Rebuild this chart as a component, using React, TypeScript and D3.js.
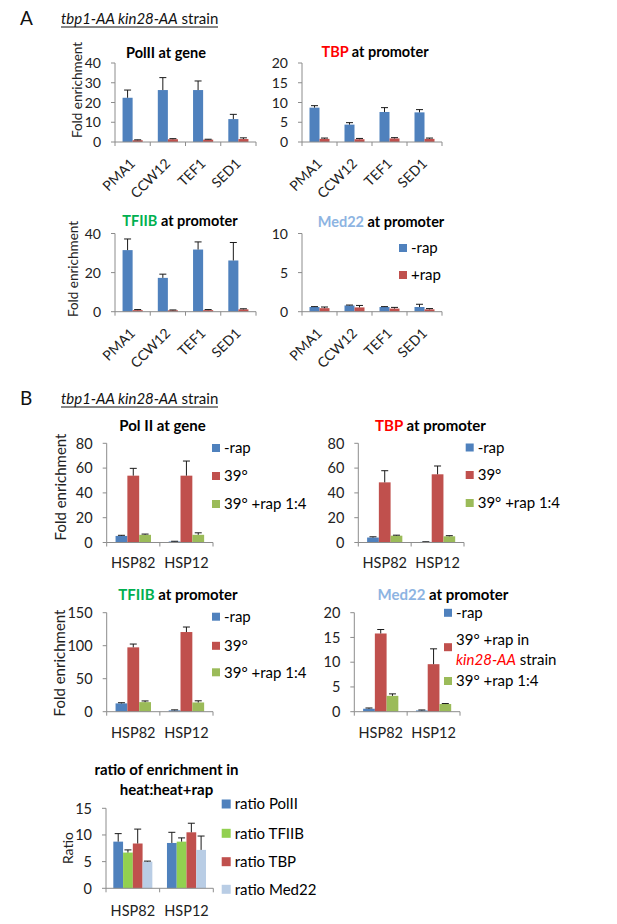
import React from "react";
import * as d3 from "d3";

const FONT = "Lato, 'Open Sans', sans-serif";

// ---------- Data ----------
const genesA = ["PMA1", "CCW12", "TEF1", "SED1"];
const genesB = ["HSP82", "HSP12"];

// Panel A (-rap / +rap)
const polIIA_minus = [22.4, 26.3, 26.3, 11.6];
const polIIA_minusErr = [3.9, 6.3, 4.6, 2.4];
const polIIA_plus = [0.9, 1.4, 1.2, 1.5];
const polIIA_plusErr = [0.2, 0.3, 0.2, 0.6];

const tbpA_minus = [8.7, 4.4, 7.6, 7.5];
const tbpA_minusErr = [0.5, 0.5, 1.1, 0.7];
const tbpA_plus = [0.8, 0.7, 0.9, 0.8];
const tbpA_plusErr = [0.2, 0.2, 0.2, 0.2];

const tfiibA_minus = [31.5, 17.3, 31.8, 26.2];
const tfiibA_minusErr = [5.7, 1.9, 3.9, 9.2];
const tfiibA_plus = [0.8, 0.7, 0.8, 1.2];
const tfiibA_plusErr = [0.3, 0.2, 0.3, 0.3];

const med22A_minus = [0.6, 0.8, 0.6, 0.6];
const med22A_minusErr = [0.05, 0.05, 0.05, 0.35];
const med22A_plus = [0.45, 0.55, 0.4, 0.3];
const med22A_plusErr = [0.15, 0.25, 0.15, 0.1];

// Panel B (-rap / 39° / 39° +rap 1:4)
const polIIB_rap = [5.3, 0.8];
const polIIB_rapErr = [0.5, 0.2];
const polIIB_heat = [53.9, 53.9];
const polIIB_heatErr = [5.9, 11.8];
const polIIB_heatRap = [6.2, 6.2];
const polIIB_heatRapErr = [0.6, 1.6];

const tbpB_rap = [4.0, 0.5];
const tbpB_rapErr = [0.6, 0.1];
const tbpB_heat = [48.5, 55.0];
const tbpB_heatErr = [9.4, 6.7];
const tbpB_heatRap = [5.5, 5.0];
const tbpB_heatRapErr = [0.4, 0.5];

const tfiibB_rap = [12.6, 2.0];
const tfiibB_rapErr = [1.0, 0.8];
const tfiibB_heat = [97.5, 120.7];
const tfiibB_heatErr = [5.0, 7.6];
const tfiibB_heatRap = [14.5, 14.0];
const tfiibB_heatRapErr = [1.8, 2.5];

const med22B_rap = [0.6, 0.25];
const med22B_rapErr = [0.15, 0.1];
const med22B_heat = [15.8, 9.6];
const med22B_heatErr = [0.8, 3.1];
const med22B_heatRap = [3.2, 1.55];
const med22B_heatRapErr = [0.4, 0.1];

const ratio_polII = [8.75, 8.5];
const ratio_polIIErr = [1.5, 2.0];
const ratio_tfiib = [6.7, 8.75];
const ratio_tfiibErr = [0.5, 0.7];
const ratio_tbp = [8.4, 10.5];
const ratio_tbpErr = [2.7, 1.7];
const ratio_med22 = [5.0, 7.2];
const ratio_med22Err = [0.1, 2.6];

const ticksA1 = [0, 10, 20, 30, 40];
const ticksA2 = [0, 5, 10, 15, 20];
const ticksA3 = [0, 20, 40];
const ticksA4 = [0, 5, 10];
const ticksB80 = [0, 20, 40, 60, 80];
const ticksB150 = [0, 50, 100, 150];
const ticksB20 = [0, 5, 10, 15, 20];
const ticksRatio = [0, 5, 10, 15];

// ---------- Styles ----------
const BLUE = "#4F81BD";
const RED = "#C0504D";
const GREEN = "#9BBB59";
const RGREEN = "#92D050";
const LBLUE = "#B9CDE5";
const AXIS = "#8C8C8C";

type Part = { t: string; c?: string; i?: boolean };
type Series = { values: number[]; errs: number[]; color: string };
type LegendLine = { cy: number; parts: Part[]; sq?: string };

type ChartProps = {
  cats: string[];
  series: Series[];
  x0: number;
  x1: number;
  yTop: number;
  yBot: number;
  max: number;
  ticks: number[];
  tickFont: number;
  rotated: boolean;
  catFont: number;
  catDy: number;
  ylabel?: { text: string; x: number; y: number; size: number };
  title: { lines: Part[][]; x: number; y: number; size: number; lh?: number };
  legend?: { x: number; sq: number; size: number; lines: LegendLine[] };
};

function Parts({ parts }: { parts: Part[] }) {
  return (
    <>
      {parts.map((p, i) => (
        <tspan key={i} fill={p.c || "#000"} fontStyle={p.i ? "italic" : undefined}>
          {p.t}
        </tspan>
      ))}
    </>
  );
}

function Chart(p: ChartProps) {
  const y = d3.scaleLinear().domain([0, p.max]).range([p.yBot, p.yTop]);
  const xb = d3.scaleBand<string>().domain(p.cats).range([p.x0, p.x1]).paddingInner(0).paddingOuter(0);
  const keys = p.series.map((_, i) => String(i));
  const xs = d3.scaleBand<string>().domain(keys).range([0, xb.bandwidth()]).paddingInner(0).paddingOuter(0.75);
  const bw = xs.bandwidth();
  const cap = 7;
  const boundaries = d3.range(p.cats.length + 1).map((i) => p.x0 + i * xb.step());
  return (
    <g fontFamily={FONT}>
      {p.series.map((s, si) =>
        p.cats.map((c, ci) => {
          const bx = (xb(c) as number) + (xs(String(si)) as number);
          const v = s.values[ci];
          const e = s.errs[ci];
          const cx = bx + bw / 2;
          return (
            <g key={`${si}-${ci}`}>
              <rect x={bx} y={y(v)} width={bw} height={p.yBot - y(v)} fill={s.color} />
              <line x1={cx} x2={cx} y1={y(v)} y2={y(v + e)} stroke="#1a1a1a" strokeWidth={1} />
              <line x1={cx - cap / 2} x2={cx + cap / 2} y1={y(v + e)} y2={y(v + e)} stroke="#1a1a1a" strokeWidth={1} />
            </g>
          );
        })
      )}
      <line x1={p.x0} x2={p.x0} y1={p.yTop} y2={p.yBot} stroke={AXIS} />
      {p.ticks.map((t) => (
        <g key={t}>
          <line x1={p.x0 - 4} x2={p.x0} y1={y(t)} y2={y(t)} stroke={AXIS} />
          <text x={p.x0 - 14} y={y(t)} dy="0.36em" textAnchor="end" fontSize={p.tickFont} fill="#222">
            {t}
          </text>
        </g>
      ))}
      <line x1={p.x0} x2={p.x1} y1={p.yBot} y2={p.yBot} stroke={AXIS} />
      {boundaries.map((bx, i) => (
        <line key={i} x1={bx} x2={bx} y1={p.yBot} y2={p.yBot + 4} stroke={AXIS} />
      ))}
      {p.cats.map((c) => {
        const cx = (xb(c) as number) + xb.bandwidth() / 2;
        return p.rotated ? (
          <text
            key={c}
            transform={`translate(${cx},${p.yBot + p.catDy}) rotate(-45)`}
            textAnchor="end"
            dy="0.35em"
            fontSize={p.catFont}
            fill="#222"
          >
            {c}
          </text>
        ) : (
          <text key={c} x={cx} y={p.yBot + p.catDy} textAnchor="middle" fontSize={p.catFont} fill="#222">
            {c}
          </text>
        );
      })}
      {p.ylabel && (
        <text
          transform={`translate(${p.ylabel.x},${p.ylabel.y}) rotate(-90)`}
          textAnchor="middle"
          dy="0.35em"
          fontSize={p.ylabel.size}
          fill="#222"
        >
          {p.ylabel.text}
        </text>
      )}
      {p.title.lines.map((ln, i) => (
        <text
          key={i}
          x={p.title.x}
          y={p.title.y + i * (p.title.lh || 20)}
          textAnchor="middle"
          fontWeight="bold"
          fontSize={p.title.size}
        >
          <Parts parts={ln} />
        </text>
      ))}
      {p.legend &&
        p.legend.lines.map((l, i) => (
          <g key={i}>
            {l.sq && (
              <rect
                x={p.legend!.x}
                y={l.cy - p.legend!.sq / 2}
                width={p.legend!.sq}
                height={p.legend!.sq}
                fill={l.sq}
              />
            )}
            <text x={p.legend!.x + p.legend!.sq + 4} y={l.cy} dy="0.36em" fontSize={p.legend!.size} fill="#222">
              <Parts parts={l.parts} />
            </text>
          </g>
        ))}
    </g>
  );
}

const mk = (v: number[], e: number[], c: string): Series => ({ values: v, errs: e, color: c });

export default function App() {
  const subtitle = (y: number, letter: string) => (
    <g fontFamily={FONT}>
      <text x={20} y={y + 1} fontSize={19} fill="#111">
        {letter}
      </text>
      <text x={61} y={y} fontSize={15} fill="#111">
        <tspan fontStyle="italic">tbp1-AA kin28-AA</tspan>
        <tspan> strain</tspan>
      </text>
      <line x1={61} x2={218} y1={y + 3} y2={y + 3} stroke="#111" strokeWidth={1} />
    </g>
  );
  const legB = (x: number, cys: number[]): ChartProps["legend"] => ({
    x,
    sq: 8,
    size: 15,
    lines: [
      { cy: cys[0], sq: BLUE, parts: [{ t: "-rap" }] },
      { cy: cys[1], sq: RED, parts: [{ t: "39°" }] },
      { cy: cys[2], sq: GREEN, parts: [{ t: "39° +rap 1:4" }] },
    ],
  });
  return (
    <svg width={617} height={924} style={{ position: "absolute", left: 0, top: 0, background: "#fff" }}>
      <rect width={617} height={924} fill="#fff" />
      {subtitle(24, "A")}
      {subtitle(404, "B")}

      <Chart
        cats={genesA}
        series={[mk(polIIA_minus, polIIA_minusErr, BLUE), mk(polIIA_plus, polIIA_plusErr, RED)]}
        x0={115} x1={256} yTop={63} yBot={142} max={40} ticks={ticksA1} tickFont={14}
        rotated catFont={14} catDy={19}
        ylabel={{ text: "Fold enrichment", x: 77, y: 90, size: 13.5 }}
        title={{ lines: [[{ t: "PolII at gene" }]], x: 166, y: 58, size: 14.5 }}
      />
      <Chart
        cats={genesA}
        series={[mk(tbpA_minus, tbpA_minusErr, BLUE), mk(tbpA_plus, tbpA_plusErr, RED)]}
        x0={302} x1={442} yTop={63} yBot={142} max={20} ticks={ticksA2} tickFont={14}
        rotated catFont={14} catDy={19}
        title={{ lines: [[{ t: "TBP", c: "#FF0000" }, { t: " at promoter" }]], x: 375, y: 57, size: 14.5 }}
      />
      <Chart
        cats={genesA}
        series={[mk(tfiibA_minus, tfiibA_minusErr, BLUE), mk(tfiibA_plus, tfiibA_plusErr, RED)]}
        x0={115} x1={256} yTop={233.5} yBot={311.7} max={40} ticks={ticksA3} tickFont={14}
        rotated catFont={14} catDy={19}
        ylabel={{ text: "Fold enrichment", x: 73, y: 269, size: 13.5 }}
        title={{ lines: [[{ t: "TFIIB", c: "#00B050" }, { t: " at promoter" }]], x: 180, y: 226, size: 14.5 }}
      />
      <Chart
        cats={genesA}
        series={[mk(med22A_minus, med22A_minusErr, BLUE), mk(med22A_plus, med22A_plusErr, RED)]}
        x0={302} x1={442} yTop={233.5} yBot={311.7} max={10} ticks={ticksA4} tickFont={14}
        rotated catFont={14} catDy={19}
        title={{ lines: [[{ t: "Med22", c: "#8DB4E2" }, { t: " at promoter" }]], x: 381, y: 227, size: 14.5 }}
        legend={{
          x: 399, sq: 8, size: 15,
          lines: [
            { cy: 248, sq: BLUE, parts: [{ t: "-rap" }] },
            { cy: 275, sq: RED, parts: [{ t: "+rap" }] },
          ],
        }}
      />

      <Chart
        cats={genesB}
        series={[
          mk(polIIB_rap, polIIB_rapErr, BLUE),
          mk(polIIB_heat, polIIB_heatErr, RED),
          mk(polIIB_heatRap, polIIB_heatRapErr, GREEN),
        ]}
        x0={106.7} x1={213} yTop={443.3} yBot={542.5} max={80} ticks={ticksB80} tickFont={14.5}
        rotated={false} catFont={14.5} catDy={25}
        ylabel={{ text: "Fold enrichment", x: 61, y: 487, size: 15 }}
        title={{ lines: [[{ t: "Pol II at gene" }]], x: 162.5, y: 431, size: 15 }}
        legend={legB(212, [448, 476, 504])}
      />
      <Chart
        cats={genesB}
        series={[
          mk(tbpB_rap, tbpB_rapErr, BLUE),
          mk(tbpB_heat, tbpB_heatErr, RED),
          mk(tbpB_heatRap, tbpB_heatRapErr, GREEN),
        ]}
        x0={358.3} x1={464} yTop={443.3} yBot={542.5} max={80} ticks={ticksB80} tickFont={14.5}
        rotated={false} catFont={14.5} catDy={25}
        title={{ lines: [[{ t: "TBP", c: "#FF0000" }, { t: " at promoter" }]], x: 430.5, y: 431, size: 15 }}
        legend={legB(465.7, [447.5, 475, 503])}
      />
      <Chart
        cats={genesB}
        series={[
          mk(tfiibB_rap, tfiibB_rapErr, BLUE),
          mk(tfiibB_heat, tfiibB_heatErr, RED),
          mk(tfiibB_heatRap, tfiibB_heatRapErr, GREEN),
        ]}
        x0={106.7} x1={213} yTop={612.7} yBot={711.7} max={150} ticks={ticksB150} tickFont={14.5}
        rotated={false} catFont={14.5} catDy={26}
        ylabel={{ text: "Fold enrichment", x: 60, y: 663, size: 15 }}
        title={{ lines: [[{ t: "TFIIB", c: "#00B050" }, { t: " at promoter" }]], x: 178, y: 600, size: 15 }}
        legend={legB(212, [616.7, 645.8, 672.3])}
      />
      <Chart
        cats={genesB}
        series={[
          mk(med22B_rap, med22B_rapErr, BLUE),
          mk(med22B_heat, med22B_heatErr, RED),
          mk(med22B_heatRap, med22B_heatRapErr, GREEN),
        ]}
        x0={354.3} x1={460} yTop={612.7} yBot={711.7} max={20} ticks={ticksB20} tickFont={14.5}
        rotated={false} catFont={14.5} catDy={26}
        title={{ lines: [[{ t: "Med22", c: "#8DB4E2" }, { t: " at promoter" }]], x: 443, y: 600, size: 15 }}
        legend={{
          x: 444, sq: 8, size: 15,
          lines: [
            { cy: 612.8, sq: BLUE, parts: [{ t: "-rap" }] },
            { cy: 647.2, sq: RED, parts: [] },
            { cy: 640, parts: [{ t: "39° +rap in" }] },
            { cy: 659.3, parts: [{ t: "kin28-AA", c: "#FF0000", i: true }, { t: " strain" }] },
            { cy: 681, sq: GREEN, parts: [{ t: "39° +rap 1:4" }] },
          ],
        }}
      />
      <Chart
        cats={genesB}
        series={[
          mk(ratio_polII, ratio_polIIErr, BLUE),
          mk(ratio_tfiib, ratio_tfiibErr, RGREEN),
          mk(ratio_tbp, ratio_tbpErr, RED),
          mk(ratio_med22, ratio_med22Err, LBLUE),
        ]}
        x0={106} x1={213.3} yTop={808.3} yBot={888.3} max={15} ticks={ticksRatio} tickFont={14.5}
        rotated={false} catFont={14.5} catDy={28}
        ylabel={{ text: "Ratio", x: 68, y: 848, size: 14 }}
        title={{
          lines: [[{ t: "ratio of enrichment in" }], [{ t: "heat:heat+rap" }]],
          x: 166.5, y: 775, size: 15, lh: 20,
        }}
        legend={{
          x: 221.7, sq: 9, size: 15,
          lines: [
            { cy: 804, sq: BLUE, parts: [{ t: "ratio PolII" }] },
            { cy: 833.3, sq: RGREEN, parts: [{ t: "ratio TFIIB" }] },
            { cy: 861.7, sq: RED, parts: [{ t: "ratio TBP" }] },
            { cy: 889.3, sq: LBLUE, parts: [{ t: "ratio Med22" }] },
          ],
        }}
      />
    </svg>
  );
}
